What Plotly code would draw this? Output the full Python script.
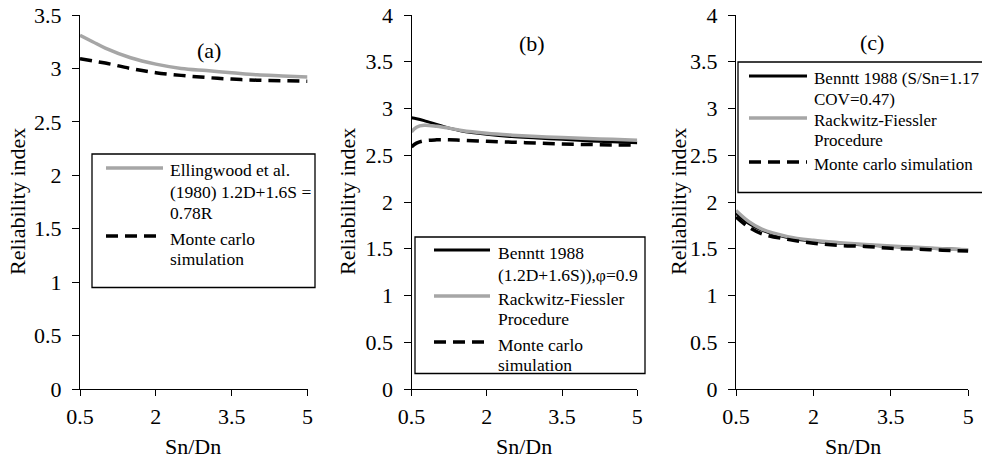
import plotly.graph_objects as go

W, H = 982, 459
FONT = "'Liberation Serif', 'Times New Roman', Times, 'DejaVu Serif', serif"
GRAY = "#A6A6A6"

# ---------------- data ----------------
# Panel (a)
xa = [0.5, 0.75, 1, 1.5, 2, 2.5, 3, 3.5, 4, 4.5, 5]
ell_a = [3.31, 3.25, 3.19, 3.10, 3.04, 3.00, 2.98, 2.96, 2.94, 2.93, 2.92]
mc_a = [3.09, 3.07, 3.05, 3.00, 2.96, 2.935, 2.915, 2.90, 2.89, 2.885, 2.88]

# Panel (b)
xb = [0.5, 0.6, 0.75, 1, 1.25, 1.5, 2, 2.5, 3, 3.5, 4, 4.5, 5]
ben_b = [2.90, 2.89, 2.87, 2.83, 2.79, 2.76, 2.725, 2.70, 2.685, 2.67, 2.655, 2.645, 2.635]
rf_b = [2.75, 2.80, 2.82, 2.81, 2.79, 2.765, 2.735, 2.715, 2.70, 2.69, 2.68, 2.67, 2.66]
mc_b = [2.59, 2.63, 2.655, 2.665, 2.665, 2.66, 2.65, 2.64, 2.63, 2.62, 2.615, 2.61, 2.61]

# Panel (c)
xc = [0.5, 0.75, 1, 1.5, 2, 2.5, 3, 3.5, 4, 4.5, 5]
ben_c = [1.88, 1.77, 1.70, 1.62, 1.58, 1.56, 1.54, 1.525, 1.51, 1.50, 1.49]
rf_c = [1.91, 1.79, 1.71, 1.63, 1.59, 1.565, 1.545, 1.53, 1.515, 1.50, 1.49]
mc_c = [1.84, 1.73, 1.66, 1.60, 1.56, 1.535, 1.525, 1.505, 1.495, 1.485, 1.475]

x_ticks = [0.5, 2, 3.5, 5]
panel_labels = ["(a)", "(b)", "(c)"]
x_title = "Sn/Dn"
y_title = "Reliability index"

legend_a = [("Ellingwood et al.", "(1980) 1.2D+1.6S =", "0.78R"),
            ("Monte carlo", "simulation")]
legend_b = [("Benntt 1988", "(1.2D+1.6S)),φ=0.9"),
            ("Rackwitz-Fiessler", "Procedure"),
            ("Monte carlo", "simulation")]
legend_c = [("Benntt 1988 (S/Sn=1.17", "COV=0.47)"),
            ("Rackwitz-Fiessler", "Procedure"),
            ("Monte carlo simulation",)]


def px(x):
    return x / W


def py(y):
    return 1 - y / H


fig = go.Figure()

solid_black = dict(color="black", width=3)
solid_gray = dict(color=GRAY, width=3.5)
dashed = dict(color="black", width=3.5, dash="12px,7px")

fig.add_trace(go.Scatter(x=xa, y=ell_a, mode="lines", line=dict(solid_gray, shape="spline"), xaxis="x", yaxis="y"))
fig.add_trace(go.Scatter(x=xa, y=mc_a, mode="lines", line=dict(dashed, shape="spline"), xaxis="x", yaxis="y"))

fig.add_trace(go.Scatter(x=xb, y=ben_b, mode="lines", line=dict(solid_black, shape="spline"), xaxis="x2", yaxis="y2"))
fig.add_trace(go.Scatter(x=xb, y=rf_b, mode="lines", line=dict(solid_gray, shape="spline"), xaxis="x2", yaxis="y2"))
fig.add_trace(go.Scatter(x=xb, y=mc_b, mode="lines", line=dict(dashed, shape="spline"), xaxis="x2", yaxis="y2"))

fig.add_trace(go.Scatter(x=xc, y=ben_c, mode="lines", line=dict(solid_black, shape="spline"), xaxis="x3", yaxis="y3"))
fig.add_trace(go.Scatter(x=xc, y=rf_c, mode="lines", line=dict(solid_gray, shape="spline"), xaxis="x3", yaxis="y3"))
fig.add_trace(go.Scatter(x=xc, y=mc_c, mode="lines", line=dict(dashed, shape="spline"), xaxis="x3", yaxis="y3"))

ydom = [py(389), py(15)]
xdoms = [[px(80), px(307.5)], [px(411.5), px(637.3)], [px(736), px(968.3)]]
ymax = [3.5, 4, 4]

common_x = dict(range=[0.5, 5], tickvals=x_ticks, showline=True, linecolor="black", linewidth=1,
                ticks="outside", ticklen=6, tickwidth=1, tickcolor="black", showgrid=False,
                zeroline=False, tickfont=dict(family=FONT, size=22, color="black"),
                ticklabelstandoff=2, automargin=False, fixedrange=True)
common_y = dict(dtick=0.5, tick0=0, showline=True, linecolor="black", linewidth=1,
                ticks="outside", ticklen=7, tickwidth=1, tickcolor="black", showgrid=False,
                zeroline=False, tickfont=dict(family=FONT, size=22, color="black"),
                ticklabelstandoff=6, automargin=False, fixedrange=True)

layout = dict(width=W, height=H, margin=dict(l=0, r=0, t=0, b=0),
              paper_bgcolor="white", plot_bgcolor="white", showlegend=False,
              font=dict(family=FONT))
for i in range(3):
    s = "" if i == 0 else str(i + 1)
    layout["xaxis" + s] = dict(common_x, domain=xdoms[i], anchor="y" + s)
    layout["yaxis" + s] = dict(common_y, domain=ydom, range=[0, ymax[i]], anchor="x" + s)
fig.update_layout(**layout)

annotations = []
shapes = []


def text(x, y, t, size=22, xanchor="center", angle=0):
    annotations.append(dict(x=px(x), y=py(y), xref="paper", yref="paper", text=t,
                            showarrow=False, xanchor=xanchor, yanchor="middle",
                            textangle=angle, font=dict(family=FONT, size=size, color="black")))


# axis titles & panel labels
for cx in [193, 524, 852.5]:
    text(cx, 446, x_title)
for cx in [18, 348, 679]:
    text(cx, 202, y_title, angle=-90)
for (cx, cy), lab in zip([(209, 50), (532, 43), (872, 42)], panel_labels):
    text(cx, cy, lab)


def legend(box, sx0, sx1, tx, items, styles, line_ys, size=17.5):
    x0, y0, x1, y1 = box
    shapes.append(dict(type="rect", xref="paper", yref="paper", x0=px(x0), x1=px(x1),
                       y0=py(y1), y1=py(y0), line=dict(color="black", width=1.3),
                       fillcolor="rgba(0,0,0,0)"))
    for lines, st, ys in zip(items, styles, line_ys):
        shapes.append(dict(type="line", xref="paper", yref="paper", x0=px(sx0), x1=px(sx1),
                           y0=py(ys[0]), y1=py(ys[0]), line=st))
        for t, yy in zip(lines, ys):
            text(tx, yy + 2.5, t, size=size, xanchor="left")


sty_gray = dict(color=GRAY, width=3.5)
sty_black = dict(color="black", width=3)
sty_dash = dict(color="black", width=3.5, dash="12px,7px")

legend((92, 154, 315, 287.5), 106, 163, 168, legend_a, [sty_gray, sty_dash],
       [(168, 189, 210), (236, 256)])
legend((415, 237, 645, 373.5), 434, 490, 496, legend_b, [sty_black, sty_gray, sty_dash],
       [(250, 272), (296, 316), (342, 362)])
legend((738, 62, 995, 192.5), 749, 807, 812, legend_c, [sty_black, sty_gray, sty_dash],
       [(76, 97), (118, 138), (162,)], size=17)

fig.update_layout(annotations=annotations, shapes=shapes)
fig.write_html("out.html")
